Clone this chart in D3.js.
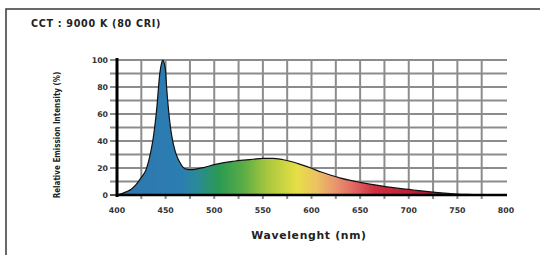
<!DOCTYPE html>
<html><head><meta charset="utf-8">
<script src="https://cdnjs.cloudflare.com/ajax/libs/d3/7.8.5/d3.min.js"></script>
<style>html,body{margin:0;padding:0;background:#fff;}svg{display:block;}</style>
</head><body>
<svg id="c" width="540" height="255"></svg>
<script>
const wavelengths = [400,405,410,415,420,425,430,435,437,441,444,446,447,448,450,451,453,455,457,460,464,468,472,476,480,490,500,510,520,530,540,550,560,570,580,590,600,610,620,630,640,650,660,670,680,690,700,710,720,730,740,750,760,770,780];
const intensity   = [0,1,2.5,4.5,8,13,19,33,41,65,90,98,100,99,91,80,63,50,41,32,25,20.5,19,18.8,19,20.5,22.5,24,25,25.8,26.5,27.2,27.2,26.3,24.6,22.3,19.8,17,14.6,12.5,10.8,9.4,8.1,6.9,5.8,4.9,4.1,3.3,2.5,1.8,1.2,0.7,0.4,0.2,0];
const xTicks = [400,450,500,550,600,650,700,750,800];
const yTicks = [0,20,40,60,80,100];
const xGrid = [425,450,475,500,525,550,575,600,625,650,675,700,725,750,775];
const yGrid = [10,20,30,40,50,60,70,80,90,100];
const gradStops = [[400,"#2f76ae"],[465,"#2b7db2"],[482,"#2a8a98"],[505,"#2a9a52"],[530,"#5aac46"],[555,"#a9c83e"],[585,"#e6df46"],[605,"#ecc262"],[625,"#e8946e"],[645,"#e06462"],[665,"#d0303e"],[700,"#c41f3a"],[770,"#8a1020"]];

const svg = d3.select("#c");
const x = d3.scaleLinear().domain([400,800]).range([117,506]);
const y = d3.scaleLinear().domain([0,100]).range([195,60]);

// frame
svg.append("rect").attr("x",6).attr("y",9).attr("width",560).attr("height",270)
  .attr("fill","none").attr("stroke","#444").attr("stroke-width",1.6);

svg.append("text").attr("x",31).attr("y",27).text("CCT : 9000 K (80 CRI)")
  .attr("font-family","DejaVu Sans").attr("font-weight","bold").attr("font-size",9.6)
  .attr("letter-spacing",0.7).attr("fill","#222");

// gridlines
const grid = svg.append("g").attr("stroke","#8c8c8c").attr("stroke-width",2);
grid.selectAll(".v").data(xGrid).join("line")
  .attr("x1",d=>x(d)).attr("x2",d=>x(d)).attr("y1",y(100)).attr("y2",y(0)+4);
grid.selectAll(".h").data(yGrid).join("line")
  .attr("x1",x(400)-7).attr("x2",x(800)+1).attr("y1",d=>y(d)).attr("y2",d=>y(d));
svg.append("line").attr("x1",x(400)-7).attr("x2",x(400)).attr("y1",y(0)).attr("y2",y(0)).attr("stroke","#555").attr("stroke-width",2);

// gradient
const defs = svg.append("defs");
const lg = defs.append("linearGradient").attr("id","spec").attr("gradientUnits","userSpaceOnUse")
  .attr("x1",x(400)).attr("x2",x(800)).attr("y1",0).attr("y2",0);
lg.selectAll("stop").data(gradStops).join("stop")
  .attr("offset",d=>(d[0]-400)/400).attr("stop-color",d=>d[1]);

const pts = wavelengths.map((w,i)=>[w,intensity[i]]);
const area = d3.area().x(d=>x(d[0])).y0(y(0)).y1(d=>y(d[1])).curve(d3.curveMonotoneX);
const line = d3.line().x(d=>x(d[0])).y(d=>y(d[1])).curve(d3.curveMonotoneX);
svg.append("path").datum(pts).attr("d",area).attr("fill","url(#spec)");
svg.append("path").datum(pts).attr("d",line).attr("fill","none").attr("stroke","#111").attr("stroke-width",1.2);

// axes lines
svg.append("line").attr("x1",x(400)).attr("x2",x(400)).attr("y1",y(100)-2).attr("y2",y(0)+2).attr("stroke","#000").attr("stroke-width",3);
svg.append("line").attr("x1",x(400)).attr("x2",x(800)+1).attr("y1",y(0)).attr("y2",y(0)).attr("stroke","#000").attr("stroke-width",2.5);

// tick labels
svg.selectAll(".yl").data(yTicks).join("text")
  .attr("x",108).attr("y",d=>y(d)+3).attr("text-anchor","end").text(d=>d)
  .attr("font-family","DejaVu Sans").attr("font-weight","bold").attr("font-size",7.8).attr("fill","#333");
svg.selectAll(".xl").data(xTicks).join("text")
  .attr("x",d=>x(d)).attr("y",213).attr("text-anchor","middle").text(d=>d)
  .attr("font-family","DejaVu Sans").attr("font-weight","bold").attr("font-size",7.8).attr("fill","#333");

svg.append("text").attr("x",309).attr("y",239).attr("text-anchor","middle").text("Wavelenght (nm)")
  .attr("font-family","DejaVu Sans").attr("font-weight","bold").attr("font-size",10.8)
  .attr("letter-spacing",0.7).attr("fill","#222");
svg.append("text").attr("transform","translate(60,135) rotate(-90)").attr("text-anchor","middle")
  .text("Relative Emission Intensity (%)")
  .attr("font-family","Liberation Sans Narrow, DejaVu Sans Condensed, Liberation Sans").attr("font-weight","bold").attr("font-size",8).attr("fill","#222");
</script>
</body></html>
